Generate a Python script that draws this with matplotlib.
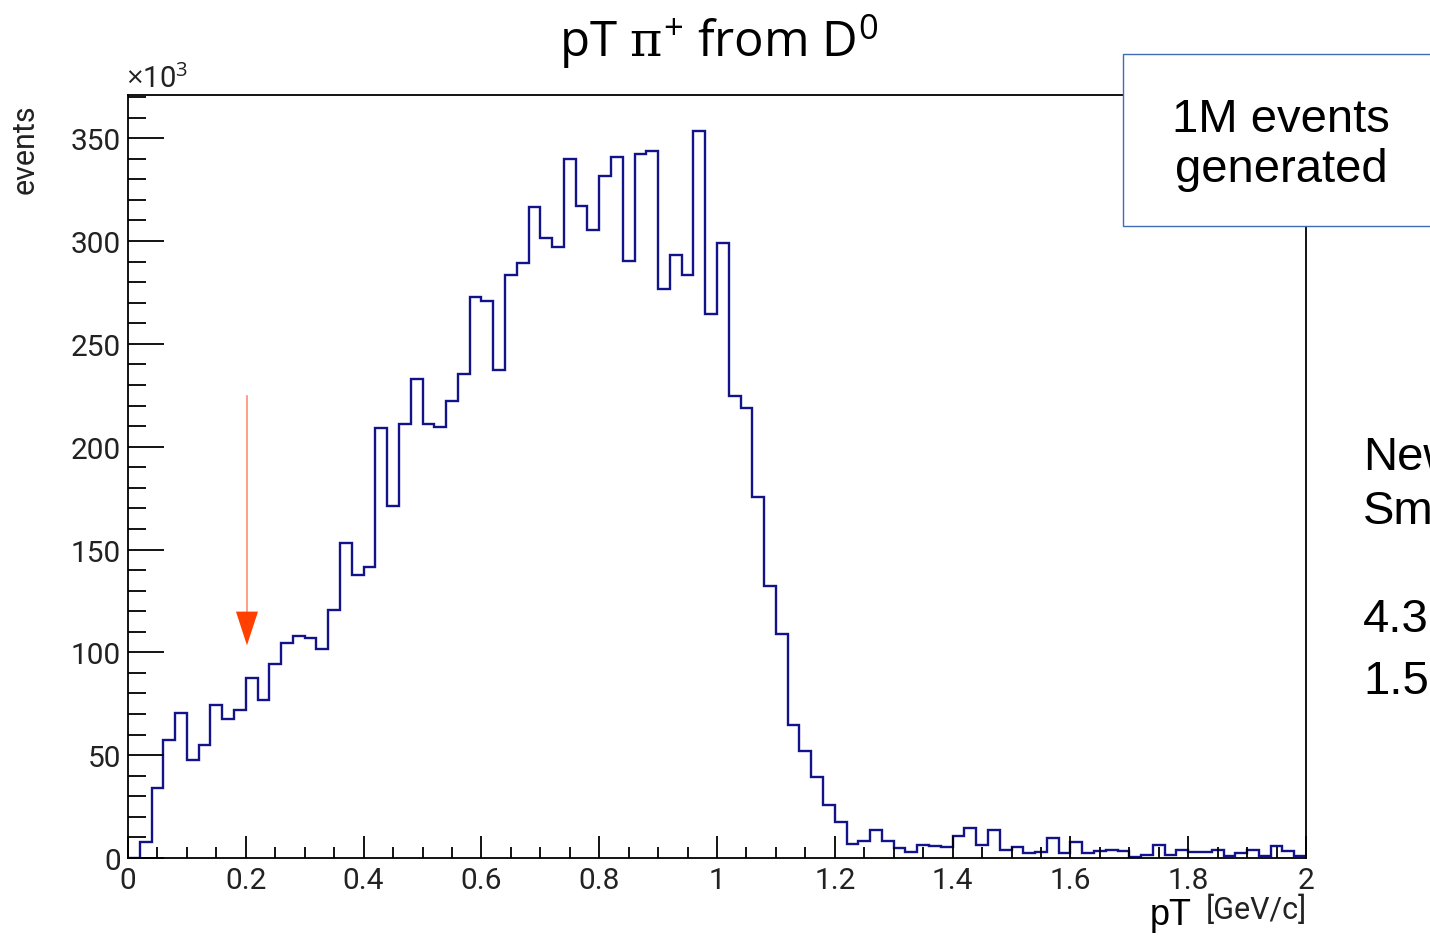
import numpy as np
import matplotlib
matplotlib.use("Agg")
import matplotlib.pyplot as plt
from matplotlib.patches import Rectangle, Polygon
from matplotlib.ticker import MultipleLocator, FuncFormatter

# ---- data (events in units of 10^3), 100 bins from 0 to 2 GeV/c ----
bin_lo = 0.0
bin_hi = 2.0
counts = [
    0.0, 7.8, 33.9, 57.2, 70.5, 47.5, 54.9, 74.5, 67.6, 72.1,
    87.4, 76.8, 94.5, 104.4, 107.8, 106.8, 101.6, 120.6, 153.0, 137.6,
    141.3, 209.0, 171.0, 211.1, 232.9, 211.1, 209.7, 222.3, 235.3, 273.0,
    270.6, 237.3, 283.6, 289.3, 316.6, 301.4, 296.9, 340.0, 317.1, 305.4,
    331.4, 340.9, 290.4, 342.2, 344.0, 276.8, 293.1, 283.6, 353.5, 264.3,
    299.0, 224.6, 218.6, 175.7, 132.5, 108.7, 64.9, 51.9, 39.6, 25.7,
    17.5, 7.0, 8.4, 13.5, 8.4, 4.7, 2.8, 6.5, 5.8, 5.2,
    10.5, 14.4, 6.5, 13.6, 4.0, 5.3, 2.4, 3.1, 9.6, 2.6,
    7.6, 2.2, 3.6, 4.0, 3.2, 0.4, 1.4, 6.3, 1.4, 4.0,
    2.8, 2.8, 4.0, 1.1, 2.2, 4.0, 0.8, 5.7, 3.2, 1.1,
]
xticks = [0, 0.2, 0.4, 0.6, 0.8, 1.0, 1.2, 1.4, 1.6, 1.8, 2.0]
yticks = [0, 50, 100, 150, 200, 250, 300, 350]

title = r"pT $\pi^{+}$ from D$^{0}$"
box_lines = "1M events\ngenerated"
side_texts = ["New", "Sm", "4.3", "1.5"]

# ---- figure ----
plt.rcParams["mathtext.fontset"] = "custom"
plt.rcParams["mathtext.rm"] = "Open Sans"
plt.rcParams["mathtext.it"] = "DejaVu Serif"
plt.rcParams["mathtext.bf"] = "Open Sans:bold"

W, H = 1430, 937
fig = plt.figure(figsize=(W / 100, H / 100), dpi=100)
fig.patch.set_facecolor("white")

def fx(px):
    return px / W

def fy(py):
    return 1 - py / H

ax = fig.add_axes([fx(128), fy(859), fx(1306) - fx(128), fy(96) - fy(859)])

edges = np.linspace(bin_lo, bin_hi, len(counts) + 1)
ax.stairs(counts, edges, baseline=0, color="#12128a", lw=1.7)

ax.set_xlim(bin_lo, bin_hi)
ax.set_ylim(0, 371)

ax.xaxis.set_minor_locator(MultipleLocator(0.05))
ax.yaxis.set_minor_locator(MultipleLocator(10))
ax.set_xticks(xticks)
ax.set_yticks(yticks)
ax.xaxis.set_major_formatter(FuncFormatter(lambda v, p: "%g" % v))

for t in ax.get_xticklabels() + ax.get_yticklabels():
    t.set_fontfamily("Roboto")
    t.set_fontsize(21.5)
    t.set_color("#222222")

ax.tick_params(axis="x", which="major", direction="in", length=16, width=1.3,
               top=False, pad=6, colors="black", labelcolor="#222222")
ax.tick_params(axis="x", which="minor", direction="in", length=8, width=1.3, top=False)
ax.tick_params(axis="y", which="major", direction="in", length=26, width=1.3,
               right=False, pad=5, colors="black", labelcolor="#222222")
ax.tick_params(axis="y", which="minor", direction="in", length=13, width=1.3, right=False)

for s in ax.spines.values():
    s.set_linewidth(1.3)
    s.set_color("black")

# ---- annotation arrow ----
x_arr = 0.202
ax.plot([x_arr, x_arr], [224.6, 119.0], color="#ff8f72", lw=1.2, zorder=3)
ax.add_patch(Polygon([[x_arr - 0.0187, 119.8], [x_arr + 0.0187, 119.8], [x_arr, 103.4]],
                     closed=True, facecolor="#ff4000", edgecolor="none", zorder=3))

# ---- texts ----
fig.text(fx(719), fy(42), title, ha="center", va="center",
         fontsize=35.5, family="Open Sans", color="black")
fig.text(fx(25), fy(149), "events", rotation=90, ha="center", va="center",
         fontsize=22, family="Roboto", color="#222222")
fig.text(fx(126), fy(79), r"$\times$10$^{3}$", ha="left", va="center",
         fontsize=21, family="Roboto", color="#222222")
fig.text(fx(1150), fy(916), "pT", ha="left", va="center",
         fontsize=26, family="Liberation Sans", color="black")
fig.text(fx(1307), fy(910), "[GeV/c]", ha="right", va="center",
         fontsize=22, family="Roboto", color="#222222")

# slide text box
box = Rectangle((fx(1123), fy(227)), fx(1440) - fx(1123), fy(55) - fy(227),
                transform=fig.transFigure, facecolor="white",
                edgecolor="#3e6db5", lw=1.0, zorder=10)
fig.patches.append(box)
fig.text(fx(1281), fy(145), box_lines, ha="center", va="center",
         fontsize=34, family="Liberation Sans", color="black",
         linespacing=1.2, zorder=11)

side_y = [458, 512, 620, 682]
for txt, py in zip(side_texts, side_y):
    fig.text(fx(1363), fy(py), txt, ha="left", va="center",
             fontsize=34, family="Liberation Sans", color="black")

fig.savefig("out.png", dpi=100)
